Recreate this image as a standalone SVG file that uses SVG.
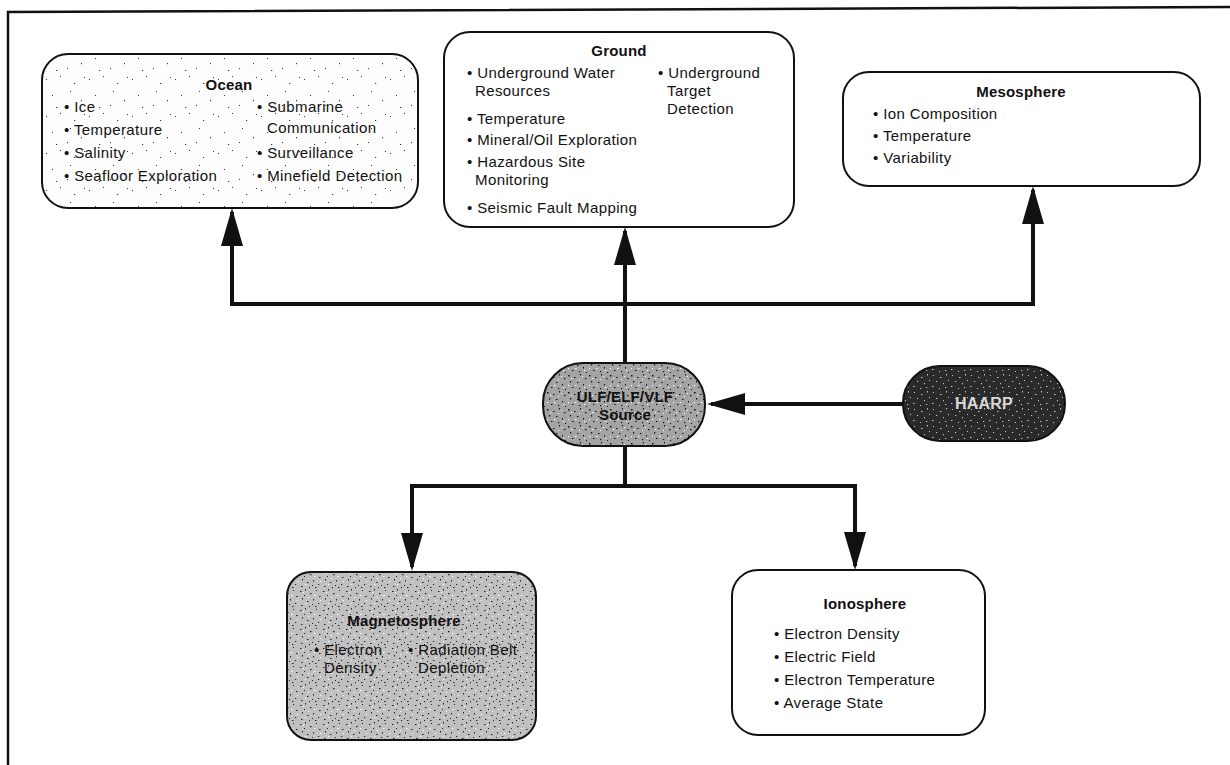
<svg xmlns="http://www.w3.org/2000/svg" width="1230" height="765" viewBox="0 0 1230 765">
<style>
text{font-family:"Liberation Sans",Arial,Helvetica,sans-serif;font-size:15px;letter-spacing:0.4px;fill:#111}
.t{font-weight:bold;text-anchor:middle;letter-spacing:0.2px}
.box{stroke:#111;stroke-width:2}
.conn{fill:none;stroke:#111;stroke-width:4}
</style>
<defs>
<marker id="ah" markerUnits="userSpaceOnUse" markerWidth="40" markerHeight="24" refX="34" refY="11" orient="auto">
<path d="M0,0 L38,11 L0,22 z" fill="#111"/>
</marker>
<pattern id="sparse" width="43" height="37" patternUnits="userSpaceOnUse">
<rect width="43" height="37" fill="#fdfdfd"/>
<g fill="#333">
<rect x="3" y="5" width="1" height="1"/><rect x="17" y="2" width="1" height="1"/><rect x="31" y="9" width="1.2" height="1"/>
<rect x="9" y="21" width="1" height="1"/><rect x="38" y="26" width="1" height="1.2"/><rect x="24" y="31" width="1" height="1"/>
<rect x="13" y="33" width="1.2" height="1"/><rect x="27" y="17" width="1" height="1"/><rect x="41" y="3" width="1" height="1"/>
</g>
</pattern>
<pattern id="dense" width="23" height="19" patternUnits="userSpaceOnUse">
<rect width="23" height="19" fill="#c0c0c0"/>
<g fill="#222">
<rect x="1" y="2" width="1.5" height="1"/><rect x="6" y="0" width="1" height="1.5"/><rect x="11" y="4" width="1.5" height="1.2"/>
<rect x="17" y="1" width="1" height="1"/><rect x="20" y="7" width="1.5" height="1"/><rect x="3" y="9" width="1" height="1.5"/>
<rect x="8" y="12" width="1.5" height="1"/><rect x="14" y="10" width="1" height="1.5"/><rect x="19" y="14" width="1.2" height="1"/>
<rect x="2" y="16" width="1.5" height="1"/><rect x="10" y="17" width="1" height="1.2"/><rect x="16" y="17" width="1.5" height="1"/>
<rect x="5" y="6" width="1" height="1"/><rect x="13" y="15" width="1" height="1"/>
</g>
<g fill="#fff">
<rect x="4" y="3" width="1" height="1"/><rect x="15" y="6" width="1.5" height="1"/><rect x="9" y="8" width="1" height="1"/>
<rect x="21" y="11" width="1" height="1"/><rect x="6" y="14" width="1.2" height="1"/>
</g>
</pattern>
<pattern id="mid" width="21" height="17" patternUnits="userSpaceOnUse">
<rect width="21" height="17" fill="#a4a4a4"/>
<g fill="#111">
<rect x="1" y="1" width="1.5" height="1.5"/><rect x="7" y="3" width="1.5" height="1"/><rect x="13" y="0" width="1" height="1.5"/>
<rect x="18" y="4" width="1.5" height="1.2"/><rect x="3" y="7" width="1.2" height="1.5"/><rect x="10" y="8" width="1.5" height="1"/>
<rect x="16" y="10" width="1" height="1.5"/><rect x="5" y="13" width="1.5" height="1"/><rect x="12" y="14" width="1.2" height="1.2"/>
<rect x="19" y="15" width="1" height="1"/>
</g>
<g fill="#fff">
<rect x="4" y="4" width="1.2" height="1"/><rect x="15" y="2" width="1" height="1"/><rect x="8" y="11" width="1.5" height="1"/>
<rect x="1" y="11" width="1" height="1.2"/><rect x="17" y="13" width="1.2" height="1"/><rect x="12" y="5" width="1" height="1"/>
</g>
</pattern>
<pattern id="dark" width="19" height="17" patternUnits="userSpaceOnUse">
<rect width="19" height="17" fill="#2a2a2a"/>
<g fill="#c8c8c8">
<rect x="2" y="1" width="1" height="1"/><rect x="9" y="3" width="1.5" height="1"/><rect x="15" y="0" width="1" height="1.5"/>
<rect x="5" y="7" width="1.2" height="1"/><rect x="12" y="9" width="1" height="1.2"/><rect x="17" y="6" width="1" height="1"/>
<rect x="1" y="12" width="1.5" height="1"/><rect x="8" y="14" width="1" height="1"/><rect x="14" y="13" width="1.2" height="1"/>
</g>
</pattern>
</defs>
<rect width="1230" height="765" fill="#fff"/>
<path d="M8,765 V12 L1230,7" fill="none" stroke="#111" stroke-width="2.5"/>

<g id="connectors">
<path class="conn" d="M903,404 H711" marker-end="url(#ah)"/>
<path class="conn" d="M625,363 V231" marker-end="url(#ah)"/>
<path class="conn" d="M625,304 H232 V212" marker-end="url(#ah)"/>
<path class="conn" d="M625,304 H1033 V190" marker-end="url(#ah)"/>
<path class="conn" d="M625,446 V486 H412 V567" marker-end="url(#ah)"/>
<path class="conn" d="M625,486 H855 V566" marker-end="url(#ah)"/>
</g>

<g id="ocean">
<rect class="box" x="42" y="54" width="376" height="154" rx="26" fill="url(#sparse)"/>
<text class="t" x="229" y="90">Ocean</text>
<text x="64" y="112">• Ice</text>
<text x="64" y="135">• Temperature</text>
<text x="64" y="158">• Salinity</text>
<text x="64" y="181">• Seafloor Exploration</text>
<text x="257" y="112">• Submarine</text>
<text x="267" y="133">Communication</text>
<text x="257" y="158">• Surveillance</text>
<text x="257" y="181">• Minefield Detection</text>
</g>

<g id="ground">
<rect class="box" x="444" y="32" width="350" height="195" rx="26" fill="#fff"/>
<text class="t" x="619" y="56">Ground</text>
<text x="467" y="78">• Underground Water</text>
<text x="475" y="96">Resources</text>
<text x="467" y="124">• Temperature</text>
<text x="467" y="145">• Mineral/Oil Exploration</text>
<text x="467" y="167">• Hazardous Site</text>
<text x="475" y="185">Monitoring</text>
<text x="467" y="213">• Seismic Fault Mapping</text>
<text x="658" y="78">• Underground</text>
<text x="667" y="96">Target</text>
<text x="667" y="114">Detection</text>
</g>

<g id="mesosphere">
<rect class="box" x="843" y="72" width="357" height="114" rx="26" fill="#fff"/>
<text class="t" x="1021" y="97">Mesosphere</text>
<text x="873" y="119">• Ion Composition</text>
<text x="873" y="141">• Temperature</text>
<text x="873" y="163">• Variability</text>
</g>

<g id="source">
<rect class="box" x="543" y="363" width="162" height="83" rx="40" fill="url(#mid)"/>
<text class="t" x="625" y="402">ULF/ELF/VLF</text>
<text class="t" x="625" y="420">Source</text>
</g>

<g id="haarp">
<rect class="box" x="903" y="366" width="162" height="75" rx="37" fill="url(#dark)"/>
<text class="t" x="984" y="409" style="fill:#d8d8d8;font-size:16px">HAARP</text>
</g>

<g id="magnetosphere">
<rect class="box" x="287" y="572" width="249" height="168" rx="24" fill="url(#dense)"/>
<text class="t" x="404" y="626">Magnetosphere</text>
<text x="314" y="655">• Electron</text>
<text x="324" y="673">Density</text>
<text x="408" y="655">• Radiation Belt</text>
<text x="418" y="673">Depletion</text>
</g>

<g id="ionosphere">
<rect class="box" x="732" y="570" width="253" height="165" rx="26" fill="#fff"/>
<text class="t" x="865" y="609">Ionosphere</text>
<text x="774" y="639">• Electron Density</text>
<text x="774" y="662">• Electric Field</text>
<text x="774" y="685">• Electron Temperature</text>
<text x="774" y="708">• Average State</text>
</g>
</svg>
